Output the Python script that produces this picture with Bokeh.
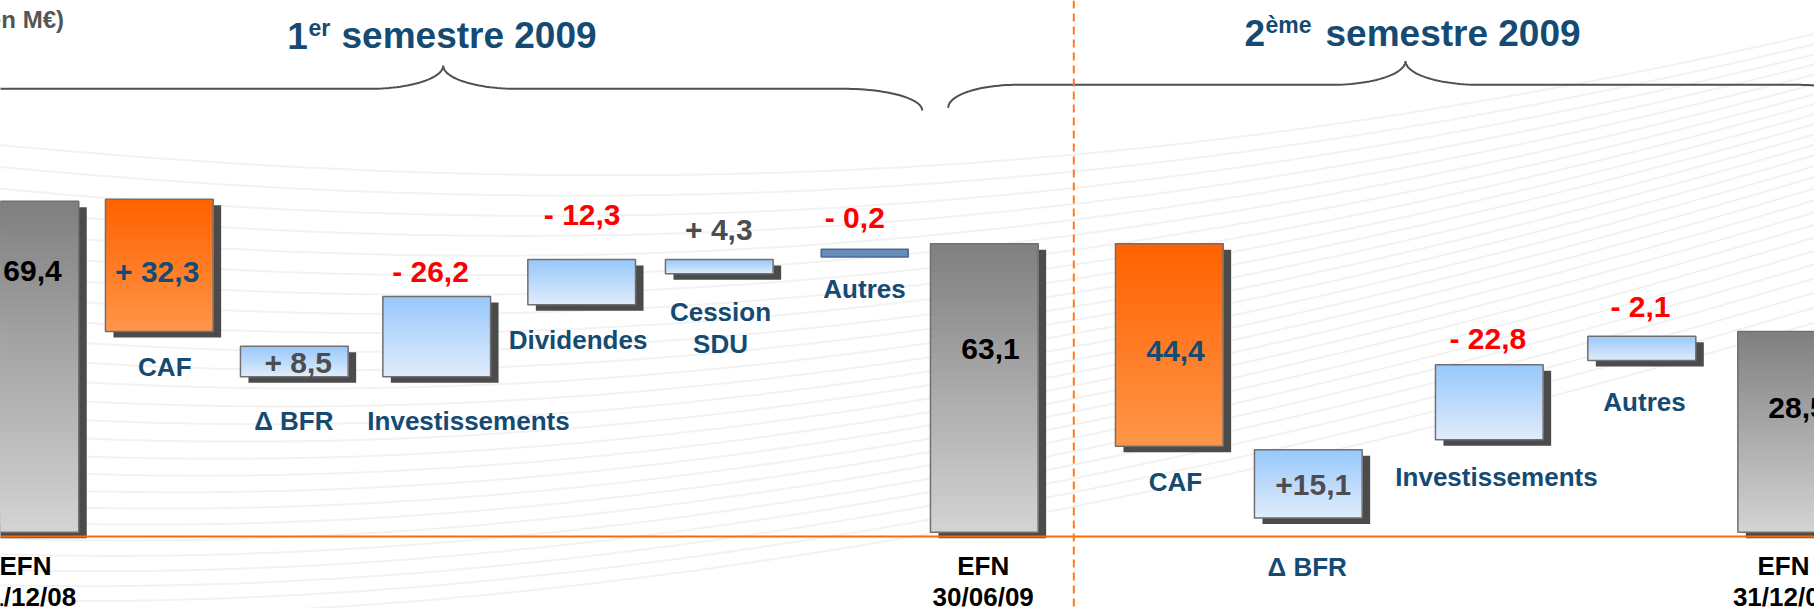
from bokeh.plotting import figure
from bokeh.models import Range1d, Span, ColumnDataSource
from bokeh.embed import file_html
from bokeh.resources import INLINE
from bokeh.core.properties import value
import numpy as np

# ---------------- data ----------------
categories = ["EFN\n31/12/08", "CAF", "Δ BFR", "Investissements", "Dividendes",
              "Cession\nSDU", "Autres", "EFN\n30/06/09",
              "CAF", "Δ BFR", "Investissements", "Autres", "EFN\n31/12/09"]
value_labels = ["69,4", "+ 32,3", "+ 8,5", "- 26,2", "- 12,3", "+ 4,3", "- 0,2",
                "63,1", "44,4", "+15,1", "- 22,8", "- 2,1", "28,5"]
kinds = ["total", "caf", "flow", "flow", "flow", "flow", "other",
         "total", "caf", "flow", "flow", "flow", "total"]
# drawn levels of each box (M€ scale of the picture, not to exact scale)
bar_top = [69.4, 69.8, 39.0, 49.4, 57.2, 57.2, 59.3, 60.5, 60.5, 17.3, 35.1, 41.1, 42.1]
bar_bottom = [0.0, 42.1, 32.6, 32.6, 47.7, 54.2, 57.7, 0.0, 18.0, 3.0, 19.4, 36.0, 0.0]
period_titles = [("1", "er", "semestre 2009"), ("2", "ème", "semestre 2009")]
unit_label = "(en M€)"

# ---------------- layout (positions / styles) ----------------
K = 4.7695          # px per unit
Y0 = 531.7          # page-pixel row of the zero level


def lvl(ypx):
    return (Y0 - ypx) / K


slot_x = [24.4, 158.8, 293.8, 436.2, 581.2, 718.8, 864.2, 983.8,
          1168.8, 1307.8, 1488.8, 1641.3, 1791.2]
bar_w = [107.7, 107.7, 107.7, 107.7, 107.7, 107.7, 87.0, 107.7,
         107.7, 107.7, 107.7, 108.0, 107.7]
val_x = [32, 156.7, 297.7, 430, 581.7, 718.3, 854.3, 990, 1175, 1312.7, 1487.3, 1640, 1797]
val_ypx = [270.7, 270.7, 361.7, 270.7, 214.3, 229.3, 216.7, 348.3, 350, 484, 338.3, 306, 407.7]
cat_x = [25, 164.3, 293.3, 468, 577.5, 720, 864, 982.7, 1175, 1306.7, 1496, 1644, 1783]
cat_ypx = [565, 366.7, 420.7, 420.7, 339.3, 311.7, 288.3, 565, 481.7, 566.7, 476, 401, 565]
LINE_H = 31.6

DARK_BLUE = "#154b73"
RED = "#ff0000"
GREY_TXT = "#4d4d4d"
SHADOW = "#4b4b4b"
FONT = "Liberation Sans"

grad = {
    "total": ("#808080", "#d3d3d3"),
    "caf": ("#ff6200", "#ff9548"),
    "flow": ("#98c8fb", "#e0ecfb"),
    "other": ("#6b8cba", "#6b8cba"),
}


def val_color(k, lab):
    if k == "total":
        return "#000000"
    if k == "caf":
        return DARK_BLUE
    return RED if lab.strip().startswith("-") else GREY_TXT


W, H = 1814, 608
p = figure(width=W, height=H, output_backend="svg", toolbar_location=None,
           x_range=Range1d(0, W), y_range=Range1d(lvl(H), lvl(0)),
           x_axis_location=None, y_axis_location=None, min_border=0,
           background_fill_color="white", border_fill_color="white",
           outline_line_color=None)
p.grid.visible = False

# faint background streaks
xs_bg = np.linspace(0, W, 200)
for i in range(26):
    yy = 150 + i * 18 - 0.00006 * (xs_bg - 300) ** 2 * (1 + i * 0.03) + 40 * np.sin(xs_bg / 700 + i * 0.1)
    p.line(xs_bg, [lvl(v) for v in yy], line_color="#f1f1f1", line_width=2, line_alpha=0.9)

# baseline
p.add_layout(Span(location=lvl(536), dimension="width", line_color="#ff6a00", line_width=2))
# divider between the two semesters
p.add_layout(Span(location=1073.3, dimension="height", line_color="#ff7a1a",
                  line_width=2, line_dash="8 5"))

SDX, SDY = 8, 6 / K
N = 40


def hex2rgb(h):
    return np.array([int(h[i:i + 2], 16) for i in (1, 3, 5)], dtype=float)


for i, k in enumerate(kinds):
    x0 = slot_x[i] - bar_w[i] / 2
    x1 = slot_x[i] + bar_w[i] / 2
    b, t = bar_bottom[i], bar_top[i]
    if k != "other":
        p.quad(left=[x0 + SDX], right=[x1 + SDX], bottom=[b - SDY], top=[t - SDY],
               fill_color=SHADOW, line_color=None)
    c_top, c_bot = hex2rgb(grad[k][0]), hex2rgb(grad[k][1])
    hh = t - b
    lefts, rights, bots, tops, cols = [], [], [], [], []
    for j in range(N):
        f = j / (N - 1)
        c = c_bot + (c_top - c_bot) * f
        lefts.append(x0)
        rights.append(x1)
        bots.append(b + hh * j / N)
        tops.append(t)
        cols.append("#%02x%02x%02x" % tuple(int(round(v)) for v in c))
    p.quad(left=lefts, right=rights, bottom=bots, top=tops, fill_color=cols, line_color=None)
    p.quad(left=[x0], right=[x1], bottom=[b], top=[t], fill_color=None,
           line_color="#4a6a96" if k == "other" else "#707070", line_width=1.5)

# value labels
vsrc = ColumnDataSource(dict(x=val_x, y=[lvl(v) for v in val_ypx], t=value_labels,
                             c=[val_color(k, l) for k, l in zip(kinds, value_labels)]))
p.text(x="x", y="y", text="t", text_color="c", source=vsrc, text_font=value(FONT),
       text_font_style="bold", text_font_size="30px", text_align="center",
       text_baseline="middle")

# category labels (split on lines)
cx, cy, ct, cc = [], [], [], []
for i, lab in enumerate(categories):
    for j, line in enumerate(lab.split("\n")):
        cx.append(cat_x[i])
        cy.append(lvl(cat_ypx[i] + j * LINE_H))
        ct.append(line)
        cc.append("#000000" if kinds[i] == "total" else DARK_BLUE)
csrc = ColumnDataSource(dict(x=cx, y=cy, t=ct, c=cc))
p.text(x="x", y="y", text="t", text_color="c", source=csrc, text_font=value(FONT),
       text_font_style="bold", text_font_size="26px", text_align="center",
       text_baseline="middle")

# unit label
p.text(x=[63.5], y=[lvl(19)], text=[unit_label], text_color="#555555", text_font=value(FONT),
       text_font_style="bold", text_font_size="24px", text_align="right", text_baseline="middle")

# semester titles with superscripts
title_pos = [(286.7, 308.0, 341.0, 35.0), (1244.0, 1265.0, 1325.0, 32.5)]
for (a, sup, rest), (xa, xs, xr, cyy) in zip(period_titles, title_pos):
    p.text(x=[xa], y=[lvl(cyy)], text=[a], text_color=DARK_BLUE, text_font=value(FONT),
           text_font_style="bold", text_font_size="37px", text_align="left",
           text_baseline="middle")
    p.text(x=[xs], y=[lvl(cyy - 8)], text=[sup], text_color=DARK_BLUE, text_font=value(FONT),
           text_font_style="bold", text_font_size="23px", text_align="left",
           text_baseline="middle")
    p.text(x=[xr], y=[lvl(cyy)], text=[rest], text_color=DARK_BLUE, text_font=value(FONT),
           text_font_style="bold", text_font_size="37px", text_align="left",
           text_baseline="middle")


# braces
def quarter(xa, ya, xb, yb, vertical_end, n=30):
    t = np.linspace(0, np.pi / 2, n)
    if vertical_end:
        xs = xa + (xb - xa) * np.sin(t)
        ys = yb + (ya - yb) * np.cos(t)
    else:
        xs = xb + (xa - xb) * np.cos(t)
        ys = ya + (yb - ya) * np.sin(t)
    return list(xs), list(ys)


def brace(x_left_tip, y_tip_l, x_left_h, y_line, cusp_x, cusp_y, half, x_right_h, x_right_tip, y_tip_r):
    X, Y = [], []
    a, b = quarter(x_left_tip, y_tip_l, x_left_h, y_line, False)
    X += a; Y += b
    a, b = quarter(cusp_x - half, y_line, cusp_x, cusp_y, True)
    X += a; Y += b
    a, b = quarter(cusp_x, cusp_y, cusp_x + half, y_line, False)
    X += a; Y += b
    a, b = quarter(x_right_h, y_line, x_right_tip, y_tip_r, True)
    X += a; Y += b
    p.line(X, [lvl(v) for v in Y], line_color="#505050", line_width=2)


brace(-80, 110, 0, 88.3, 442.7, 65.0, 74, 843, 921.7, 110)
brace(947.7, 107.3, 1016.7, 84.3, 1405, 60.5, 74, 1795, 1870, 106)

open("out.html", "w").write(file_html(p, INLINE))
